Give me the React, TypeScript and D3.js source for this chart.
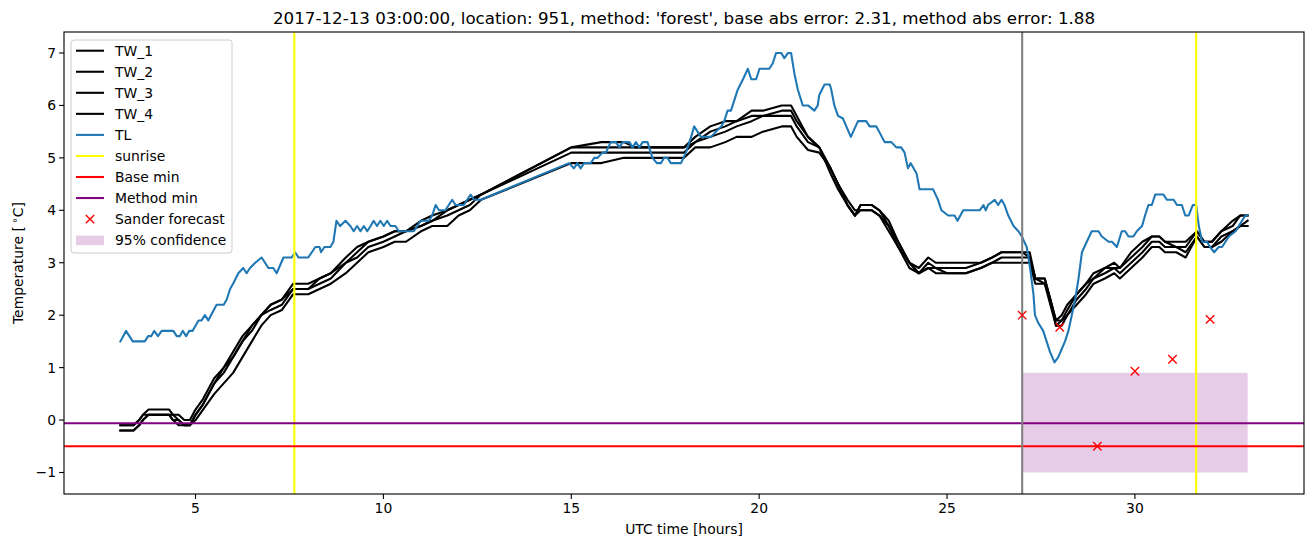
import React from "react";
import * as d3 from "d3";

// ---------- data ----------
const xTicks = [5, 10, 15, 20, 25, 30];
const yTicks = [-1, 0, 1, 2, 3, 4, 5, 6, 7];

const twHours = [3.0, 3.35, 3.5, 3.6, 3.75, 4.3, 4.4, 4.55, 4.7, 4.85, 5.0, 5.2, 5.5, 5.75, 6.0, 6.25, 6.5, 6.75, 7.0, 7.3, 7.6, 8.0, 8.3, 8.6, 9.0, 9.3, 9.6, 10.0, 10.3, 10.6, 11.0, 11.3, 11.7, 12.0, 12.3, 12.6, 15.0, 15.8, 16.4, 16.7, 18.0, 18.3, 18.7, 19.1, 19.4, 19.8, 20.1, 20.6, 20.85, 21.0, 21.3, 21.6, 21.9, 22.1, 22.35, 22.55, 22.7, 23.0, 23.2, 23.45, 23.7, 24.0, 24.25, 24.5, 24.7, 25.0, 25.5, 25.9, 26.2, 26.45, 27.0, 27.2, 27.35, 27.6, 27.75, 27.9, 28.05, 28.2, 28.45, 28.7, 28.9, 29.2, 29.45, 29.6, 29.9, 30.2, 30.45, 30.65, 30.8, 31.1, 31.35, 31.65, 31.85, 32.05, 32.3, 32.6, 32.8, 33.0];
const tw1 = [-0.1, -0.1, 0.0, 0.1, 0.2, 0.2, 0.1, 0.1, 0.0, 0.0, 0.2, 0.4, 0.8, 1.0, 1.3, 1.6, 1.8, 2.0, 2.2, 2.3, 2.6, 2.6, 2.7, 2.8, 3.1, 3.3, 3.4, 3.5, 3.6, 3.6, 3.8, 3.9, 4.0, 4.1, 4.2, 4.3, 5.2, 5.3, 5.3, 5.2, 5.2, 5.4, 5.6, 5.7, 5.7, 5.9, 5.9, 6.0, 6.0, 5.8, 5.4, 5.2, 4.8, 4.5, 4.1, 3.9, 4.1, 4.1, 4.0, 3.8, 3.4, 3.0, 2.9, 3.1, 3.0, 3.0, 3.0, 3.0, 3.1, 3.2, 3.2, 3.2, 2.7, 2.7, 2.3, 1.9, 2.0, 2.2, 2.4, 2.6, 2.8, 2.9, 3.0, 2.9, 3.2, 3.4, 3.5, 3.5, 3.4, 3.4, 3.4, 3.6, 3.4, 3.4, 3.6, 3.8, 3.9, 3.9];
const tw2 = [-0.1, -0.1, 0.0, 0.1, 0.1, 0.1, 0.1, 0.0, -0.1, -0.1, 0.1, 0.3, 0.7, 1.0, 1.2, 1.5, 1.8, 2.0, 2.2, 2.3, 2.5, 2.5, 2.7, 2.8, 3.0, 3.2, 3.4, 3.5, 3.6, 3.6, 3.7, 3.8, 4.0, 4.1, 4.2, 4.3, 5.2, 5.2, 5.2, 5.2, 5.2, 5.3, 5.5, 5.6, 5.7, 5.8, 5.8, 5.9, 5.9, 5.7, 5.4, 5.2, 4.8, 4.5, 4.1, 3.9, 4.1, 4.1, 4.0, 3.7, 3.4, 3.0, 2.8, 3.0, 2.9, 2.9, 2.9, 3.0, 3.1, 3.2, 3.2, 3.1, 2.7, 2.7, 2.3, 1.9, 1.9, 2.1, 2.4, 2.6, 2.7, 2.9, 2.9, 2.9, 3.1, 3.3, 3.5, 3.5, 3.4, 3.3, 3.3, 3.6, 3.4, 3.4, 3.6, 3.7, 3.9, 3.9];
const tw3 = [-0.2, -0.2, -0.1, 0.0, 0.1, 0.1, 0.0, 0.0, -0.1, -0.1, 0.1, 0.3, 0.7, 0.9, 1.2, 1.5, 1.7, 2.0, 2.1, 2.2, 2.5, 2.5, 2.6, 2.7, 3.0, 3.1, 3.3, 3.4, 3.5, 3.6, 3.7, 3.8, 3.9, 4.0, 4.1, 4.3, 5.1, 5.1, 5.1, 5.1, 5.1, 5.3, 5.4, 5.5, 5.6, 5.7, 5.8, 5.8, 5.8, 5.6, 5.3, 5.2, 4.7, 4.4, 4.1, 3.9, 4.0, 4.0, 3.9, 3.7, 3.3, 3.0, 2.8, 2.9, 2.9, 2.8, 2.8, 2.9, 3.0, 3.1, 3.1, 3.1, 2.7, 2.6, 2.3, 1.8, 1.9, 2.0, 2.3, 2.5, 2.7, 2.8, 2.9, 2.8, 3.0, 3.2, 3.4, 3.4, 3.3, 3.3, 3.2, 3.5, 3.3, 3.3, 3.5, 3.6, 3.7, 3.8];
const tw4 = [-0.2, -0.2, -0.1, 0.0, 0.1, 0.1, 0.0, -0.1, -0.1, -0.1, 0.0, 0.2, 0.5, 0.7, 0.9, 1.2, 1.5, 1.8, 2.0, 2.1, 2.4, 2.4, 2.5, 2.6, 2.8, 3.0, 3.2, 3.3, 3.4, 3.4, 3.6, 3.7, 3.7, 3.9, 4.0, 4.2, 4.9, 4.9, 5.0, 5.0, 5.0, 5.2, 5.2, 5.3, 5.4, 5.4, 5.5, 5.6, 5.6, 5.4, 5.15, 5.1, 4.8, 4.5, 4.2, 4.0, 4.0, 4.0, 3.9, 3.6, 3.3, 2.9, 2.8, 2.9, 2.8, 2.8, 2.8, 2.9, 3.0, 3.0, 3.0, 3.0, 2.6, 2.6, 2.2, 1.8, 1.8, 2.0, 2.2, 2.4, 2.6, 2.7, 2.8, 2.7, 2.9, 3.1, 3.3, 3.3, 3.2, 3.2, 3.1, 3.5, 3.3, 3.3, 3.4, 3.6, 3.7, 3.7];

const tlHours = [3.0, 3.15, 3.33, 3.65, 3.74, 3.82, 3.9, 4.0, 4.1, 4.41, 4.5, 4.58, 4.66, 4.75, 4.83, 4.92, 5.08, 5.16, 5.25, 5.34, 5.56, 5.75, 5.83, 5.92, 6.0, 6.14, 6.27, 6.36, 6.45, 6.59, 6.76, 6.94, 7.07, 7.16, 7.34, 7.56, 7.65, 7.74, 8.0, 8.19, 8.3, 8.34, 8.43, 8.59, 8.67, 8.75, 8.85, 8.99, 9.12, 9.21, 9.3, 9.39, 9.48, 9.57, 9.66, 9.74, 9.83, 9.92, 10.01, 10.1, 10.19, 10.32, 10.41, 10.81, 10.9, 10.99, 11.21, 11.3, 11.39, 11.48, 11.65, 11.83, 11.92, 12.14, 12.23, 12.32, 12.41, 12.59, 14.94, 15.07, 15.16, 15.25, 15.34, 15.52, 15.61, 15.7, 15.83, 15.92, 16.05, 16.19, 16.28, 16.37, 16.55, 16.63, 16.72, 16.81, 16.9, 17.03, 17.16, 17.28, 17.39, 17.47, 17.56, 17.65, 17.92, 18.05, 18.19, 18.27, 18.36, 18.45, 18.72, 18.85, 18.99, 19.07, 19.16, 19.25, 19.34, 19.43, 19.57, 19.7, 19.79, 19.92, 20.01, 20.27, 20.36, 20.45, 20.59, 20.67, 20.77, 20.85, 20.94, 21.03, 21.16, 21.3, 21.47, 21.56, 21.6, 21.74, 21.88, 21.92, 22.0, 22.1, 22.23, 22.32, 22.44, 22.63, 22.85, 22.94, 23.12, 23.34, 23.52, 23.65, 23.78, 23.87, 23.96, 24.03, 24.19, 24.27, 24.63, 24.76, 24.85, 25.03, 25.2, 25.28, 25.43, 25.87, 25.97, 26.03, 26.09, 26.27, 26.36, 26.45, 26.53, 26.63, 26.77, 26.9, 26.99, 27.12, 27.21, 27.3, 27.34, 27.43, 27.56, 27.65, 27.74, 27.86, 27.96, 28.05, 28.14, 28.23, 28.32, 28.41, 28.5, 28.59, 28.72, 28.85, 29.03, 29.12, 29.3, 29.39, 29.52, 29.65, 29.74, 29.83, 29.96, 30.05, 30.19, 30.27, 30.36, 30.45, 30.54, 30.76, 30.85, 31.03, 31.12, 31.25, 31.34, 31.43, 31.54, 31.63, 31.7, 31.79, 31.92, 32.0, 32.11, 32.23, 32.32, 32.5, 32.68, 32.85, 32.94, 33.0];
const tlValues = [1.5, 1.7, 1.5, 1.5, 1.6, 1.6, 1.7, 1.6, 1.7, 1.7, 1.6, 1.6, 1.7, 1.6, 1.7, 1.7, 1.9, 1.9, 2.0, 1.9, 2.2, 2.2, 2.3, 2.5, 2.6, 2.8, 2.9, 2.8, 2.9, 3.0, 3.1, 2.9, 2.9, 2.8, 3.1, 3.1, 3.2, 3.1, 3.1, 3.3, 3.3, 3.2, 3.3, 3.3, 3.4, 3.8, 3.7, 3.8, 3.7, 3.6, 3.7, 3.6, 3.7, 3.6, 3.7, 3.8, 3.7, 3.8, 3.7, 3.8, 3.7, 3.7, 3.6, 3.6, 3.7, 3.8, 3.8, 3.9, 4.1, 4.0, 4.0, 4.2, 4.1, 4.1, 4.2, 4.3, 4.2, 4.2, 4.9, 4.8, 4.9, 4.8, 4.9, 4.9, 5.0, 5.0, 5.1, 5.1, 5.3, 5.3, 5.2, 5.3, 5.3, 5.2, 5.3, 5.2, 5.3, 5.3, 5.0, 4.9, 4.9, 5.0, 5.0, 4.9, 4.9, 5.1, 5.4, 5.6, 5.5, 5.4, 5.4, 5.5, 5.6, 5.7, 5.9, 5.9, 6.1, 6.3, 6.5, 6.7, 6.5, 6.5, 6.7, 6.7, 6.8, 7.0, 7.0, 6.9, 7.0, 7.0, 6.6, 6.3, 6.0, 6.0, 5.9, 6.0, 6.2, 6.4, 6.4, 6.3, 6.0, 5.8, 5.75, 5.6, 5.4, 5.7, 5.7, 5.6, 5.6, 5.3, 5.3, 5.2, 5.2, 5.1, 4.8, 4.9, 4.7, 4.4, 4.4, 4.2, 4.0, 3.9, 3.9, 3.8, 4.0, 4.0, 4.1, 4.0, 4.1, 4.2, 4.1, 4.2, 4.1, 3.9, 3.7, 3.6, 3.5, 3.3, 2.9, 2.4, 2.0, 1.85, 1.7, 1.5, 1.3, 1.1, 1.2, 1.35, 1.5, 1.7, 2.0, 2.3, 2.7, 3.2, 3.4, 3.6, 3.6, 3.5, 3.4, 3.4, 3.3, 3.6, 3.6, 3.5, 3.5, 3.6, 3.7, 3.9, 4.1, 4.1, 4.3, 4.3, 4.2, 4.2, 4.1, 4.1, 3.9, 3.9, 4.1, 4.1, 3.7, 3.4, 3.4, 3.3, 3.2, 3.3, 3.3, 3.5, 3.6, 3.8, 3.9, 3.9];

const sunriseHours = [7.63, 31.63];
const forecastHour = 27.0;
const baseMin = -0.5;
const methodMin = -0.06;
const sanderHours = [27, 28, 29, 30, 31, 32];
const sanderValues = [2.0, 1.77, -0.5, 0.93, 1.16, 1.92];
const confidence = { start: 27.0, end: 33.0, low: -1.0, high: 0.9 };

const legendItems = ["TW_1", "TW_2", "TW_3", "TW_4", "TL", "sunrise", "Base min", "Method min", "Sander forecast", "95% confidence"];
const titleText = "2017-12-13 03:00:00, location: 951, method: 'forest', base abs error: 2.31, method abs error: 1.88";

// ---------- layout ----------
const W = 1313, H = 547;
const L = 64, R = 1304, T = 32, B = 494;
const FONT = "DejaVu Sans, sans-serif";
const BLUE = "#1f77b4";
const LW = 2.08;

export default function App() {
  const x = d3.scaleLinear().domain([1.5, 34.5]).range([L, R]);
  const y = d3.scaleLinear().domain([-1.41, 7.4]).range([B, T]);
  const line = d3.line<[number, number]>().x(d => x(d[0])).y(d => y(d[1]));
  const pairs = (hs: number[], vs: number[]) => hs.map((h, i) => [h, vs[i]] as [number, number]);
  const twSeries = [tw1, tw2, tw3, tw4];

  const legendX = 71, legendY = 40, rowH = 21.05;
  const legendStyles: { kind: string; color: string }[] = [
    { kind: "line", color: "#000" }, { kind: "line", color: "#000" }, { kind: "line", color: "#000" }, { kind: "line", color: "#000" },
    { kind: "line", color: BLUE }, { kind: "line", color: "yellow" }, { kind: "line", color: "red" }, { kind: "line", color: "purple" },
    { kind: "x", color: "red" }, { kind: "patch", color: "purple" },
  ];

  const xMark = (cx: number, cy: number, key: string | number) => (
    <g key={key} stroke="red" strokeWidth={1.4}>
      <line x1={cx - 4.2} y1={cy - 4.2} x2={cx + 4.2} y2={cy + 4.2} />
      <line x1={cx - 4.2} y1={cy + 4.2} x2={cx + 4.2} y2={cy - 4.2} />
    </g>
  );

  return (
    <svg width={W} height={H} style={{ position: "absolute", left: 0, top: 0, background: "#fff" }} fontFamily={FONT}>
      <rect x={0} y={0} width={W} height={H} fill="#fff" />
      <defs>
        <clipPath id="plotclip"><rect x={L} y={T} width={R - L} height={B - T} /></clipPath>
      </defs>
      <g clipPath="url(#plotclip)">
        <rect x={x(confidence.start)} y={y(confidence.high)} width={x(confidence.end) - x(confidence.start)} height={y(confidence.low) - y(confidence.high)} fill="purple" fillOpacity={0.2} />
        {twSeries.map((s, i) => (
          <path key={i} d={line(pairs(twHours, s)) || ""} fill="none" stroke="#000" strokeWidth={LW} strokeLinejoin="round" strokeLinecap="square" />
        ))}
        <path d={line(pairs(tlHours, tlValues)) || ""} fill="none" stroke={BLUE} strokeWidth={LW} strokeLinejoin="round" strokeLinecap="square" />
        {sunriseHours.map((h, i) => (
          <line key={i} x1={x(h)} x2={x(h)} y1={T} y2={B} stroke="yellow" strokeWidth={LW} />
        ))}
        <line x1={L} x2={R} y1={y(baseMin)} y2={y(baseMin)} stroke="red" strokeWidth={LW} />
        <line x1={L} x2={R} y1={y(methodMin)} y2={y(methodMin)} stroke="purple" strokeWidth={LW} />
        <line x1={x(forecastHour)} x2={x(forecastHour)} y1={T} y2={B} stroke="grey" strokeWidth={LW} />
        {sanderHours.map((h, i) => xMark(x(h), y(sanderValues[i]), i))}
      </g>

      {/* axes frame */}
      <rect x={L} y={T} width={R - L} height={B - T} fill="none" stroke="#000" strokeWidth={1.11} />

      {/* x ticks */}
      {xTicks.map(t => (
        <g key={t}>
          <line x1={x(t)} x2={x(t)} y1={B} y2={B + 4.9} stroke="#000" strokeWidth={1.11} />
          <text x={x(t)} y={B + 19} fontSize={13.9} textAnchor="middle">{t}</text>
        </g>
      ))}
      {/* y ticks */}
      {yTicks.map(t => (
        <g key={t}>
          <line x1={L - 4.9} x2={L} y1={y(t)} y2={y(t)} stroke="#000" strokeWidth={1.11} />
          <text x={L - 8} y={y(t) + 5} fontSize={13.9} textAnchor="end">{t < 0 ? "\u2212" + Math.abs(t) : t}</text>
        </g>
      ))}

      <text x={(L + R) / 2} y={534} fontSize={13.9} textAnchor="middle">UTC time [hours]</text>
      <text transform={`translate(23, ${(T + B) / 2}) rotate(-90)`} fontSize={13.9} textAnchor="middle">
        {"Temperature [\u2009"}<tspan fontSize={10} dy={-5}>{"\u2218"}</tspan><tspan dy={5}>C]</tspan>
      </text>
      <text x={(L + R) / 2} y={24} fontSize={16.7} textAnchor="middle">{titleText}</text>

      {/* legend */}
      <rect x={legendX} y={legendY} width={161} height={213} rx={3} fill="#fff" fillOpacity={0.8} stroke="#cccccc" strokeWidth={1} />
      {legendItems.map((name, i) => {
        const cy = legendY + 10.7 + i * rowH;
        const st = legendStyles[i];
        return (
          <g key={name}>
            {st.kind === "line" && <line x1={76} x2={104} y1={cy} y2={cy} stroke={st.color} strokeWidth={LW} />}
            {st.kind === "x" && xMark(90, cy, "lx")}
            {st.kind === "patch" && <rect x={76} y={cy - 4.5} width={28} height={9.5} fill="purple" fillOpacity={0.2} />}
            <text x={115} y={cy + 5} fontSize={13.9}>{name}</text>
          </g>
        );
      })}
    </svg>
  );
}
